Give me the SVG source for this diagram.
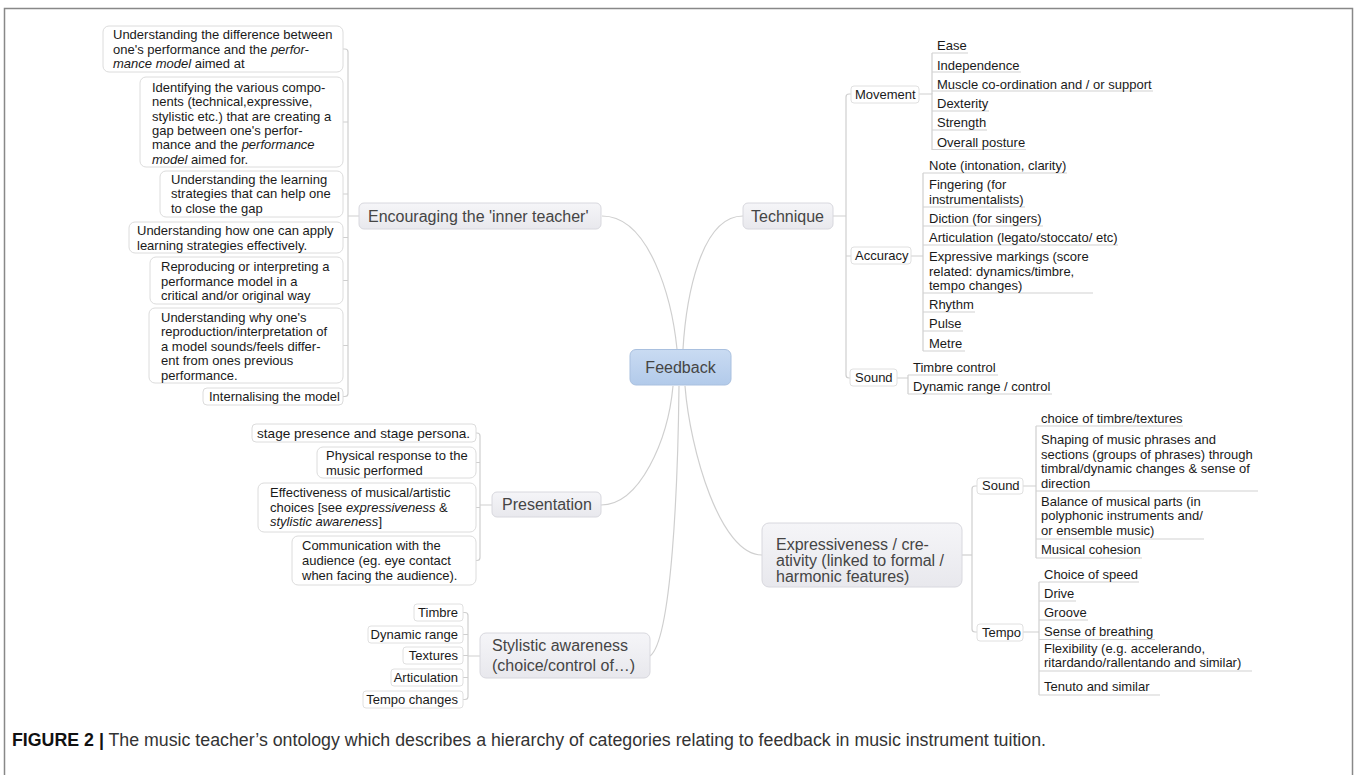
<svg xmlns="http://www.w3.org/2000/svg" width="1360" height="775" viewBox="0 0 1360 775">
<defs>
<linearGradient id="gMain" x1="0" y1="0" x2="0" y2="1"><stop offset="0" stop-color="#f5f5f8"/><stop offset="1" stop-color="#e8e8ed"/></linearGradient>
<linearGradient id="gRoot" x1="0" y1="0" x2="0" y2="1"><stop offset="0" stop-color="#c9dbf2"/><stop offset="1" stop-color="#b2caea"/></linearGradient>
</defs>
<style>
.c{fill:none;stroke:#cfcfcf;stroke-width:1.2}
.u{fill:none;stroke:#d2d2d2;stroke-width:1.2}
.t{font-family:"Liberation Sans",Arial,sans-serif;font-size:13px;fill:#1a1a1a}
.L{font-family:"Liberation Sans",Arial,sans-serif;font-size:16px;fill:#454545}
.box{fill:#fff;stroke:#dcdcdc;stroke-width:1}
.sub{fill:#fff;stroke:#e0e0e0;stroke-width:1}
.main{fill:url(#gMain);stroke:#d8d8de;stroke-width:1}
.i{font-style:italic}
.cap{font-family:"Liberation Sans",Arial,sans-serif;font-size:17.5px;fill:#333}
</style>
<rect x="4.5" y="8.5" width="1348" height="790" fill="#fff" stroke="#888" stroke-width="1.5"/>

<g id="connectors">
<path class="c" d="M602,216 C650,216 672,300 677,349"/>
<path class="c" d="M743,216 C700,216 686,300 683,349"/>
<path class="c" d="M601,505 C640,505 668,440 673,386"/>
<path class="c" d="M650,656 C672,640 678,480 679,386"/>
<path class="c" d="M762,555 C720,555 690,450 685,386"/>
<path class="c" d="M343,49 H345 Q348,49 348,52 V393.5 Q348,396.5 345,396.5 H343"/>
<path class="c" d="M343,122 H348 M343,194 H348 M343,237.5 H348 M343,280.5 H348 M343,345.5 H348 M348,216 H359"/>
<path class="c" d="M476,433 H477 Q480,433 480,436 V557.5 Q480,560.5 477,560.5 H476"/>
<path class="c" d="M476,462.5 H480 M476,507.5 H480 M480,505 H492"/>
<path class="c" d="M463,612.5 H465 Q468,612.5 468,615.5 V696.5 Q468,699.5 465,699.5 H463"/>
<path class="c" d="M463,634.5 H468 M463,655.5 H468 M463,677.5 H468 M468,656 H480"/>
<path class="c" d="M851,94 H849 Q846,94 846,97 V375 Q846,378 849,378 H850"/>
<path class="c" d="M833,216 H846 M846,256 H851"/>
<path class="c" d="M919,94 H932 V150"/>
<path class="c" d="M932,53 V94"/>
<path class="c" d="M911,256 H923 M923,173 V351"/>
<path class="c" d="M897,378 H908 M908,375 V394"/>
<path class="c" d="M977,486 H975 Q972,486 972,489 V629 Q972,632 975,632 H977"/>
<path class="c" d="M962,555 H972"/>
<path class="c" d="M1023,486 H1036 M1036,426 V558"/>
<path class="c" d="M1023,632 H1039 M1039,582 V695"/>
<path class="u" d="M932,53 H968 M932,72 H1021 M932,91 H1153 M932,111 H989 M932,130 H987 M932,149.5 H1026"/>
<path class="u" d="M923,173 H1067 M923,207 H1025 M923,226 H1043 M923,245 H1118 M923,293 H1093 M923,312 H975 M923,331 H963 M923,351 H965"/>
<path class="u" d="M908,375 H998 M908,394 H1052"/>
<path class="u" d="M1036,426 H1183 M1036,491 H1258 M1036,539 H1204 M1036,558 H1142"/>
<path class="u" d="M1039,582 H1139 M1039,601 H1076 M1039,620 H1088 M1039,639.5 H1155 M1039,671 H1252 M1039,695 H1160"/>
</g>

<g id="feedback">
<rect x="630" y="349.5" width="101" height="35.5" rx="6" fill="url(#gRoot)" stroke="#a9c0df"/>
<text class="L" x="680.5" y="373" text-anchor="middle">Feedback</text>
</g>

<g id="encouraging">
<rect class="main" x="359" y="203" width="242" height="26" rx="5"/>
<text class="L" x="368" y="221.5">Encouraging the 'inner teacher'</text>
</g>
<g id="enc1">
<rect class="box" x="103" y="26" width="240" height="46" rx="6"/>
<text class="t" x="113" y="39">Understanding the difference between</text>
<text class="t" x="113" y="53.5">one's performance and the <tspan class="i">perfor-</tspan></text>
<text class="t" x="113" y="68"><tspan class="i">mance model</tspan> aimed at</text>
</g>
<g id="enc2">
<rect class="box" x="140" y="77" width="203" height="90" rx="6"/>
<text class="t" x="152" y="92">Identifying the various compo-</text>
<text class="t" x="152" y="106.3">nents (technical,expressive,</text>
<text class="t" x="152" y="120.6">stylistic etc.) that are creating a</text>
<text class="t" x="152" y="134.9">gap between one's perfor-</text>
<text class="t" x="152" y="149.2">mance and the <tspan class="i">performance</tspan></text>
<text class="t" x="152" y="163.5"><tspan class="i">model</tspan> aimed for.</text>
</g>
<g id="enc3">
<rect class="box" x="160" y="171" width="183" height="46" rx="6"/>
<text class="t" x="171" y="183.5">Understanding the learning</text>
<text class="t" x="171" y="198">strategies that can help one</text>
<text class="t" x="171" y="212.5">to close the gap</text>
</g>
<g id="enc4">
<rect class="box" x="129" y="222" width="214" height="31" rx="6"/>
<text class="t" x="137" y="235">Understanding how one can apply</text>
<text class="t" x="137" y="249.5">learning strategies effectively.</text>
</g>
<g id="enc5">
<rect class="box" x="150" y="257" width="193" height="47" rx="6"/>
<text class="t" x="161" y="271">Reproducing or interpreting a</text>
<text class="t" x="161" y="285.5">performance model in a</text>
<text class="t" x="161" y="300">critical and/or original way</text>
</g>
<g id="enc6">
<rect class="box" x="149" y="308" width="194" height="75" rx="6"/>
<text class="t" x="161" y="322">Understanding why one's</text>
<text class="t" x="161" y="336.4">reproduction/interpretation of</text>
<text class="t" x="161" y="350.8">a model sounds/feels differ-</text>
<text class="t" x="161" y="365.2">ent from ones previous</text>
<text class="t" x="161" y="379.6">performance.</text>
</g>
<g id="enc7">
<rect class="box" x="203" y="388" width="140" height="17" rx="4"/>
<text class="t" x="209" y="401">Internalising the model</text>
</g>

<g id="presentation">
<rect class="main" x="492" y="492" width="109" height="25" rx="5"/>
<text class="L" x="502" y="510">Presentation</text>
</g>
<g id="pres1">
<rect class="box" x="252" y="424" width="224" height="18" rx="4"/>
<text class="t" x="257" y="437.5" style="font-size:13.6px">stage presence and stage persona.</text>
</g>
<g id="pres2">
<rect class="box" x="317" y="447" width="159" height="31" rx="6"/>
<text class="t" x="326" y="460">Physical response to the</text>
<text class="t" x="326" y="474.5">music performed</text>
</g>
<g id="pres3">
<rect class="box" x="258" y="483" width="218" height="49" rx="6"/>
<text class="t" x="270" y="497">Effectiveness of musical/artistic</text>
<text class="t" x="270" y="511.5">choices [see <tspan class="i">expressiveness</tspan> &amp;</text>
<text class="t" x="270" y="526"><tspan class="i">stylistic awareness</tspan>]</text>
</g>
<g id="pres4">
<rect class="box" x="292" y="536" width="184" height="49" rx="6"/>
<text class="t" x="302" y="550">Communication with the</text>
<text class="t" x="302" y="565">audience (eg. eye contact</text>
<text class="t" x="302" y="580">when facing the audience).</text>
</g>

<g id="stylistic">
<rect class="main" x="480" y="633" width="170" height="45" rx="6"/>
<text class="L" x="492" y="651">Stylistic awareness</text>
<text class="L" x="492" y="671">(choice/control of…)</text>
</g>
<g id="sty1"><rect class="sub" x="414" y="604" width="49" height="17" rx="3"/><text class="t" x="458" y="617" text-anchor="end">Timbre</text></g>
<g id="sty2"><rect class="sub" x="368" y="626" width="95" height="17" rx="3"/><text class="t" x="458" y="638.5" text-anchor="end">Dynamic range</text></g>
<g id="sty3"><rect class="sub" x="403" y="647" width="60" height="17" rx="3"/><text class="t" x="458" y="660" text-anchor="end">Textures</text></g>
<g id="sty4"><rect class="sub" x="391" y="669" width="72" height="17" rx="3"/><text class="t" x="458" y="682" text-anchor="end">Articulation</text></g>
<g id="sty5"><rect class="sub" x="363" y="691" width="100" height="17" rx="3"/><text class="t" x="458" y="704" text-anchor="end">Tempo changes</text></g>

<g id="technique">
<rect class="main" x="743" y="203" width="90" height="26" rx="5"/>
<text class="L" x="751" y="222">Technique</text>
</g>
<g id="movement"><rect class="sub" x="851" y="86" width="68" height="17" rx="3"/><text class="t" x="855" y="99">Movement</text></g>
<g id="accuracy"><rect class="sub" x="851" y="247" width="60" height="17" rx="3"/><text class="t" x="855" y="260">Accuracy</text></g>
<g id="tsound"><rect class="sub" x="850" y="369" width="47" height="17" rx="3"/><text class="t" x="855" y="382">Sound</text></g>
<g id="movement-items">
<text class="t" x="937" y="50">Ease</text>
<text class="t" x="937" y="69.5">Independence</text>
<text class="t" x="937" y="88.5">Muscle co-ordination and / or support</text>
<text class="t" x="937" y="108">Dexterity</text>
<text class="t" x="937" y="127">Strength</text>
<text class="t" x="937" y="146.5">Overall posture</text>
</g>
<g id="accuracy-items">
<text class="t" x="929" y="170">Note (intonation, clarity)</text>
<text class="t" x="929" y="189">Fingering (for</text>
<text class="t" x="929" y="203.5">instrumentalists)</text>
<text class="t" x="929" y="223">Diction (for singers)</text>
<text class="t" x="929" y="242">Articulation (legato/stoccato/ etc)</text>
<text class="t" x="929" y="261">Expressive markings (score</text>
<text class="t" x="929" y="275.5">related: dynamics/timbre,</text>
<text class="t" x="929" y="290">tempo changes)</text>
<text class="t" x="929" y="309">Rhythm</text>
<text class="t" x="929" y="328">Pulse</text>
<text class="t" x="929" y="347.5">Metre</text>
</g>
<g id="tsound-items">
<text class="t" x="913" y="372">Timbre control</text>
<text class="t" x="913" y="391">Dynamic range / control</text>
</g>

<g id="expressiveness">
<rect class="main" x="762" y="523" width="200" height="64" rx="7"/>
<text class="L" x="776" y="550">Expressiveness / cre-</text>
<text class="L" x="776" y="566">ativity (linked to formal /</text>
<text class="L" x="776" y="582">harmonic features)</text>
</g>
<g id="esound"><rect class="sub" x="977" y="478" width="46" height="16" rx="3"/><text class="t" x="982" y="490">Sound</text></g>
<g id="etempo"><rect class="sub" x="977" y="624" width="46" height="17" rx="3"/><text class="t" x="982" y="636.5">Tempo</text></g>
<g id="esound-items">
<text class="t" x="1041" y="422.5">choice of timbre/textures</text>
<text class="t" x="1041" y="444">Shaping of music phrases and</text>
<text class="t" x="1041" y="458.5">sections (groups of phrases) through</text>
<text class="t" x="1041" y="473">timbral/dynamic changes &amp; sense of</text>
<text class="t" x="1041" y="487.5">direction</text>
<text class="t" x="1041" y="505.5">Balance of musical parts (in</text>
<text class="t" x="1041" y="520">polyphonic instruments and/</text>
<text class="t" x="1041" y="534.5">or ensemble music)</text>
<text class="t" x="1041" y="554">Musical cohesion</text>
</g>
<g id="etempo-items">
<text class="t" x="1044" y="578.5">Choice of speed</text>
<text class="t" x="1044" y="597.5">Drive</text>
<text class="t" x="1044" y="616.5">Groove</text>
<text class="t" x="1044" y="635.5">Sense of breathing</text>
<text class="t" x="1044" y="652.5">Flexibility (e.g. accelerando,</text>
<text class="t" x="1044" y="667">ritardando/rallentando and similar)</text>
<text class="t" x="1044" y="691">Tenuto and similar</text>
</g>

<text class="cap" x="12" y="746" textLength="1034" lengthAdjust="spacingAndGlyphs"><tspan font-weight="bold" fill="#111">FIGURE 2 |</tspan> The music teacher’s ontology which describes a hierarchy of categories relating to feedback in music instrument tuition.</text>
</svg>
